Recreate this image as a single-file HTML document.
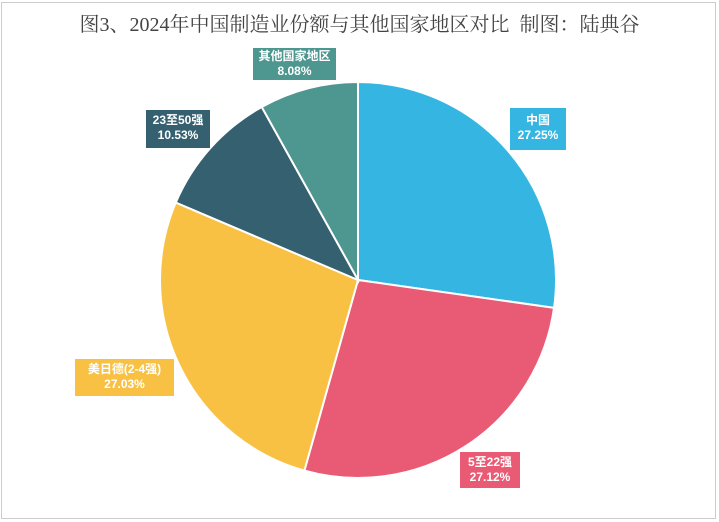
<!DOCTYPE html>
<html><head><meta charset="utf-8">
<style>
html,body{margin:0;padding:0;background:#fff;}
body{width:719px;height:522px;overflow:hidden;position:relative;font-family:"Liberation Sans","Noto Sans CJK SC",sans-serif;}
#frame{position:absolute;left:1px;top:2px;width:715px;height:517px;border:1px solid #ccc;box-sizing:border-box;}
#title{position:absolute;left:0;width:719px;top:8px;text-align:center;font-family:"Liberation Serif","Noto Serif CJK SC",serif;font-size:20px;color:#444;}
.lbl{position:absolute;color:#fff;font-size:12px;font-weight:bold;text-align:center;line-height:15px;padding:3px 4px;box-sizing:border-box;}
</style></head><body>
<div id="frame"></div>
<div id="title">图3、2024年中国制造业份额与其他国家地区对比 &nbsp;制图：陆典谷</div>
<svg id="pie" width="719" height="522" style="position:absolute;left:0;top:0"></svg>
<div class="lbl" style="left:510px;top:108px;width:56px;height:42px;background:#35B6E2;padding-top:5px">中国<br>27.25%</div>
<div class="lbl" style="left:460px;top:452px;width:60px;height:36px;background:#E95B75">5至22强<br>27.12%</div>
<div class="lbl" style="left:75px;top:359px;width:99px;height:37px;background:#F8C143">美日德(2-4强)<br>27.03%</div>
<div class="lbl" style="left:146px;top:110px;width:64px;height:38px;background:#356070">23至50强<br>10.53%</div>
<div class="lbl" style="left:253px;top:48px;width:83px;height:32px;background:#4E9690;padding-top:1px">其他国家地区<br>8.08%</div>
<script>
const categories=["中国","5至22强","美日德(2-4强)","23至50强","其他国家地区"];
const values=[27.25,27.12,27.03,10.53,8.08];
const colors=["#35B6E2","#E95B75","#F8C143","#356070","#4E9690"];
const svg=document.getElementById('pie');
const cx=358,cy=280,r=198;
const total=values.reduce((a,b)=>a+b,0);
let a0=0;
values.forEach((v,i)=>{
  const a1=a0+v/total*2*Math.PI;
  const x0=cx+r*Math.sin(a0),y0=cy-r*Math.cos(a0);
  const x1=cx+r*Math.sin(a1),y1=cy-r*Math.cos(a1);
  const large=(a1-a0)>Math.PI?1:0;
  const p=document.createElementNS('http://www.w3.org/2000/svg','path');
  p.setAttribute('d',`M${cx},${cy}L${x0},${y0}A${r},${r} 0 ${large} 1 ${x1},${y1}Z`);
  p.setAttribute('fill',colors[i]);
  p.setAttribute('stroke','#fff');
  p.setAttribute('stroke-width','2');
  
  
  svg.appendChild(p);
  a0=a1;
});
</script>
</body></html>
